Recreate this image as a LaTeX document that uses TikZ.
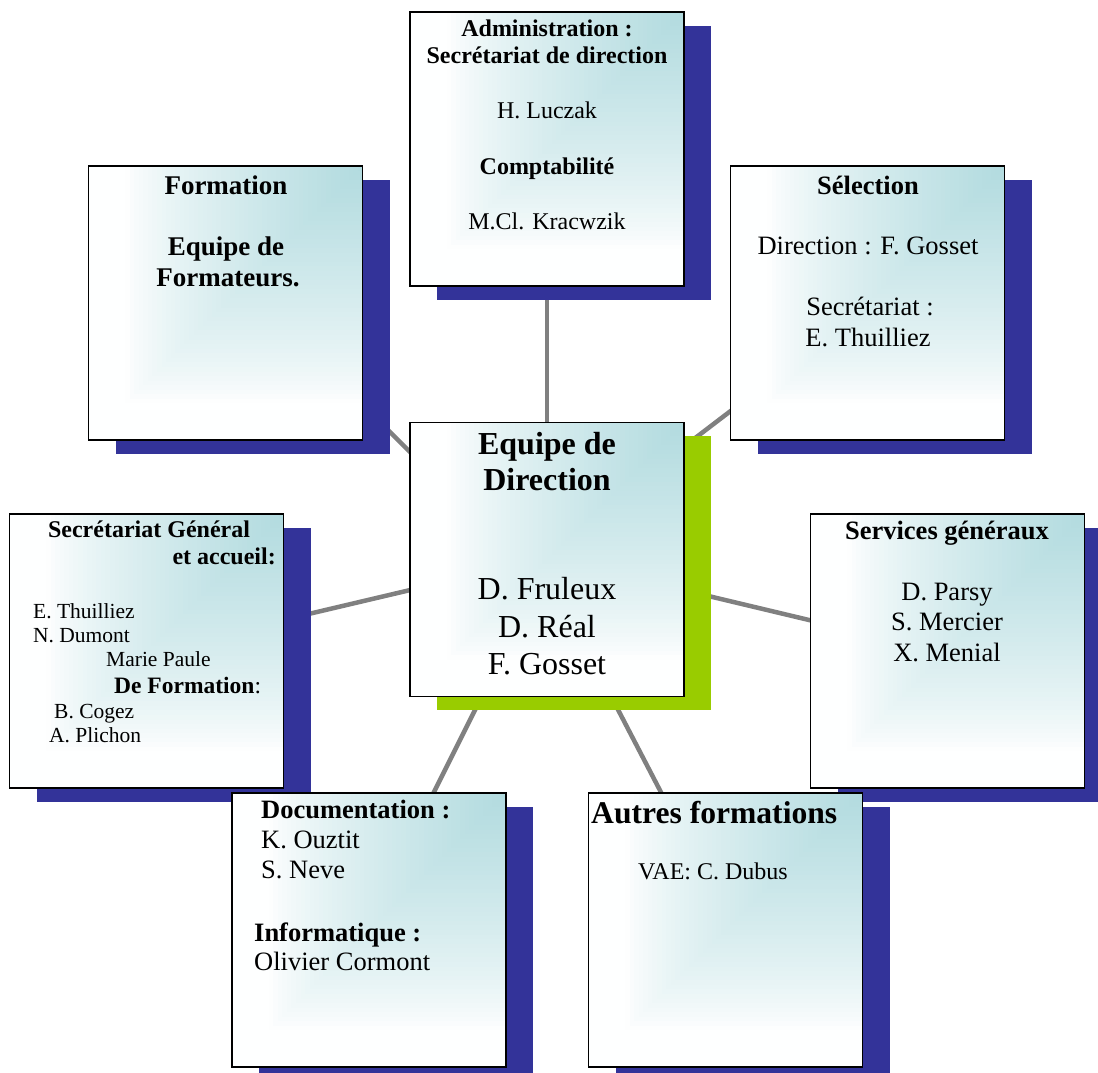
\documentclass[tikz,border=0pt]{standalone}
\usepackage{fontspec}
\setmainfont{Liberation Serif}
\usetikzlibrary{shadows,backgrounds}
\definecolor{bt}{RGB}{178,219,223}
\definecolor{shblue}{RGB}{51,51,153}
\definecolor{shgreen}{RGB}{153,204,0}
\definecolor{lnk}{RGB}{128,128,128}
\newcommand\fsz[1]{\fontsize{#1}{#1}\selectfont}
\tikzset{
 orgbox/.style={draw=black, line width=1.8pt, fill=white, minimum width=274pt, minimum height=274pt, inner sep=0pt, outer sep=0pt,
   path picture={\foreach \k in {60,59,...,1}{\pgfmathsetmacro\pp{100*(max(0.001,1-(\k-0.5)/52))^0.75}\fill[bt!\pp!white] (path picture bounding box.north east) rectangle ++(-4.5667*\k,4.5667*\k);}},
   drop shadow={shadow xshift=27pt, shadow yshift=-13.5pt, fill=#1, opacity=1}},
 orgbox/.default=shblue,
 tx/.style={anchor=base, inner sep=0pt},
 txl/.style={anchor=base west, inner sep=0pt},
 txr/.style={anchor=base east, inner sep=0pt},
 link/.style={draw=lnk, line width=4.5pt},
}
\begin{document}
\begin{tikzpicture}[x=1pt, y=-1pt]
\useasboundingbox (0,0) rectangle (1098,1072);
% Administration
\node[orgbox] (adm) at (547,149) {};
\node[tx, font=\fsz{24}\bfseries] (a1) at (547,36) {Administration :};
\node[tx, font=\fsz{24}\bfseries] (a2) at (547,63.5) {Secrétariat de direction};
\node[tx, font=\fsz{24}] (a3) at (547,118.5) {H. Luczak};
\node[tx, font=\fsz{24}\bfseries] (a4) at (547,174.5) {Comptabilité};
\node[tx, font=\fsz{24}] (a5) at (547,229) {M.Cl. Kracwzik};
% Formation
\node[orgbox] (frm) at (225.5,303) {};
\node[tx, font=\fsz{27}\bfseries] (f1) at (226,194) {Formation};
\node[tx, font=\fsz{27}\bfseries] (f2) at (226,255) {Equipe de};
\node[tx, font=\fsz{27}\bfseries] (f3) at (228,286) {Formateurs.};
% Selection
\node[orgbox] (sel) at (867.5,303) {};
\node[tx, font=\fsz{26.5}\bfseries] (s1) at (868,194) {Sélection};
\node[tx, font=\fsz{26.5}] (s2) at (868,254) {Direction : F. Gosset};
\node[tx, font=\fsz{26.5}] (s3) at (870,315) {Secrétariat :};
\node[tx, font=\fsz{26.5}] (s4) at (868,346) {E. Thuilliez};
% Secretariat general
\node[orgbox] (sec) at (146.5,651) {};
\node[tx, font=\fsz{24}\bfseries] (g1) at (149,537) {Secrétariat Général};
\node[txr, font=\fsz{24}\bfseries] (g2) at (276,564) {et accueil:};
\node[txl, font=\fsz{21.5}] (g3) at (33,618) {E. Thuilliez};
\node[txl, font=\fsz{21.5}] (g4) at (33,642) {N. Dumont};
\node[txl, font=\fsz{21.5}] (g5) at (106,666) {Marie Paule};
\node[txl, font=\fsz{23.5}] (g6) at (114,693) {\textbf{De Formation}:};
\node[txl, font=\fsz{21.5}] (g7) at (54,718) {B. Cogez};
\node[txl, font=\fsz{21.5}] (g8) at (49,742) {A. Plichon};
% Services generaux
\node[orgbox] (srv) at (947.5,651) {};
\node[tx, font=\fsz{26.5}\bfseries] (v1) at (947,539) {Services généraux};
\node[tx, font=\fsz{26.5}] (v2) at (947,600) {D. Parsy};
\node[tx, font=\fsz{26.5}] (v3) at (947,630) {S. Mercier};
\node[tx, font=\fsz{26.5}] (v4) at (947,661) {X. Menial};
% Documentation
\node[orgbox] (doc) at (369,930) {};
\node[txl, font=\fsz{26.5}\bfseries] (d1) at (261,818) {Documentation :};
\node[txl, font=\fsz{26.5}] (d2) at (261,848) {K. Ouztit};
\node[txl, font=\fsz{26.5}] (d3) at (261,878) {S. Neve};
\node[txl, font=\fsz{26.5}\bfseries] (d4) at (254,941) {Informatique :};
\node[txl, font=\fsz{26.5}] (d5) at (254,970) {Olivier Cormont};
% Autres formations
\node[orgbox] (aut) at (725.5,930) {};
\node[txl, font=\fsz{31.6}\bfseries] (o1) at (591,823) {Autres formations};
\node[txl, font=\fsz{24}] (o2) at (638,879) {VAE: C. Dubus};
% Centre
\node[orgbox=shgreen] (cen) at (547,559.5) {};
\node[tx, font=\fsz{32}\bfseries] (c1) at (547,454) {Equipe de};
\node[tx, font=\fsz{32}\bfseries] (c2) at (547,490) {Direction};
\node[tx, font=\fsz{32}] (c3) at (547,599) {D. Fruleux};
\node[tx, font=\fsz{32}] (c4) at (547,637) {D. Réal};
\node[tx, font=\fsz{32}] (c5) at (547,674) {F. Gosset};
% connectors
\begin{scope}[on background layer]
\coordinate (lf1) at (360,402); \coordinate (lf2) at (440,482);
\coordinate (lg1) at (300,616); \coordinate (lg2) at (440,583);
\coordinate (ls1) at (690,442); \coordinate (ls2) at (745,400);
\coordinate (lv1) at (700,594); \coordinate (lv2) at (830,625);
\coordinate (ld1) at (480,700); \coordinate (ld2) at (430,800);
\coordinate (lo1) at (613,700); \coordinate (lo2) at (665,800);
\draw[link] (adm) -- (cen);
\draw[link] (lf1) -- (lf2);
\draw[link] (lg1) -- (lg2);
\draw[link] (ls1) -- (ls2);
\draw[link] (lv1) -- (lv2);
\draw[link] (ld1) -- (ld2);
\draw[link] (lo1) -- (lo2);
\end{scope}
\end{tikzpicture}
\end{document}
